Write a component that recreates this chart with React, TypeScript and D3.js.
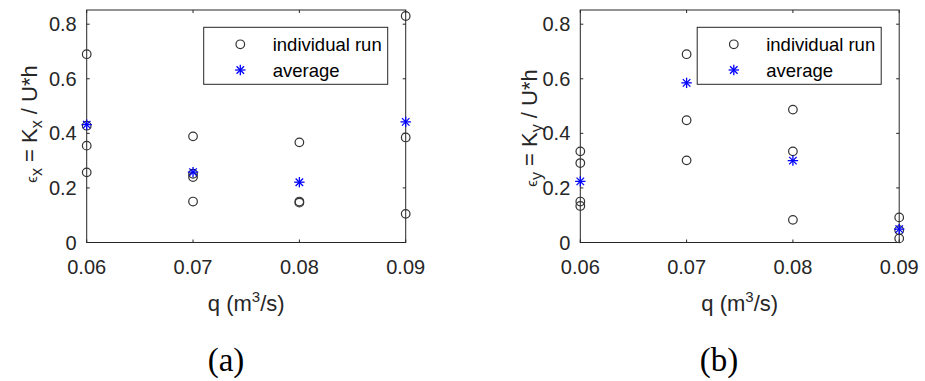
import React from 'react';
import * as d3 from 'd3';

// flow rates (m^3/s)
const flows = [0.06, 0.07, 0.08, 0.09];

// panel (a): eps_x individual runs per flow
const runsX: number[][] = [
  [0.69, 0.428, 0.355, 0.257],
  [0.389, 0.252, 0.24, 0.15],
  [0.367, 0.15, 0.146],
  [0.83, 0.385, 0.105],
];
const avgX = [0.432, 0.258, 0.221, 0.442];

// panel (b): eps_y individual runs per flow
const runsY: number[][] = [
  [0.334, 0.291, 0.15, 0.134],
  [0.69, 0.448, 0.301],
  [0.487, 0.334, 0.083],
  [0.092, 0.045, 0.015],
];
const avgY = [0.224, 0.585, 0.3, 0.049];

const yTicks = [0, 0.2, 0.4, 0.6, 0.8];
const xTicks = [0.06, 0.07, 0.08, 0.09];
const legendLabels = ['individual run', 'average'];

const AX = '#262626';
const SANS = '"Liberation Sans", Arial, Helvetica, sans-serif';

interface PanelProps {
  left: number;
  right: number;
  runs: number[][];
  avg: number[];
  sub: string;
  labelX: number;
  labelY: number;
  caption: string;
  captionX: number;
}

const Asterisk: React.FC<{ cx: number; cy: number }> = ({ cx, cy }) => {
  const r = 5.2;
  const d = r * 0.72;
  return (
    <g stroke="#0000ff" strokeWidth={1.3}>
      <line x1={cx - r} y1={cy} x2={cx + r} y2={cy} />
      <line x1={cx} y1={cy - r} x2={cx} y2={cy + r} />
      <line x1={cx - d} y1={cy - d} x2={cx + d} y2={cy + d} />
      <line x1={cx - d} y1={cy + d} x2={cx + d} y2={cy - d} />
    </g>
  );
};

const Panel: React.FC<PanelProps> = ({ left, right, runs, avg, sub, labelX, labelY, caption, captionX }) => {
  const top = 10;
  const bottom = 242.5;
  const x = d3.scaleLinear().domain([0.06, 0.09]).range([left, right]);
  const y = d3.scaleLinear().domain([0, 0.852]).range([bottom, top]);
  const tl = 3;
  const legW = 184;
  const legL = right - 18 - legW;
  const legT = 27.3;
  const legH = 57;

  return (
    <g>
      {/* axes box */}
      <rect x={left} y={top} width={right - left} height={bottom - top} fill="white" stroke={AX} strokeWidth={1} />
      {xTicks.map((t) => (
        <g key={'x' + t}>
          <line x1={x(t)} x2={x(t)} y1={bottom} y2={bottom - tl} stroke={AX} />
          <line x1={x(t)} x2={x(t)} y1={top} y2={top + tl} stroke={AX} />
          <text x={x(t)} y={274} textAnchor="middle" fontFamily={SANS} fontSize={20} fill={AX}>
            {t.toFixed(2)}
          </text>
        </g>
      ))}
      {yTicks.map((t) => (
        <g key={'y' + t}>
          <line x1={left} x2={left + tl} y1={y(t)} y2={y(t)} stroke={AX} />
          <line x1={right} x2={right - tl} y1={y(t)} y2={y(t)} stroke={AX} />
          <text x={left - 10} y={y(t) + 7} textAnchor="end" fontFamily={SANS} fontSize={20} fill={AX}>
            {t === 0 ? '0' : String(t)}
          </text>
        </g>
      ))}

      {/* data */}
      {runs.map((vals, i) =>
        vals.map((v, j) => (
          <circle key={`c${i}-${j}`} cx={x(flows[i])} cy={y(v)} r={4.3} fill="none" stroke="#333" strokeWidth={1.2} />
        ))
      )}
      {avg.map((v, i) => (
        <Asterisk key={'a' + i} cx={x(flows[i])} cy={y(v)} />
      ))}

      {/* legend */}
      <rect x={legL} y={legT} width={legW} height={legH} fill="white" stroke={AX} strokeWidth={1} />
      <circle cx={legL + 36.6} cy={44.3} r={4.3} fill="none" stroke="#333" strokeWidth={1.2} />
      <Asterisk cx={legL + 36.6} cy={70} />
      {legendLabels.map((l, i) => (
        <text key={l} x={legL + 69} y={[44.3, 70][i] + 6.5} fontFamily={SANS} fontSize={18.5} fill="#000">
          {l}
        </text>
      ))}

      {/* y label */}
      <text
        transform={`translate(${labelX},${labelY}) rotate(-90)`}
        textAnchor="middle"
        fontFamily={SANS}
        fontSize={22}
        fill={AX}
      >
        <tspan fontSize={15}>ϵ</tspan>
        <tspan fontSize={16} dy={5}>{sub}</tspan>
        <tspan dy={-5}> = K</tspan>
        <tspan fontSize={16} dy={5}>{sub}</tspan>
        <tspan dy={-5}> / U*h</tspan>
      </text>

      {/* x label */}
      <text x={(left + right) / 2} y={311} textAnchor="middle" fontFamily={SANS} fontSize={22} fill={AX}>
        q (m<tspan fontSize={15} dy={-9}>3</tspan>
        <tspan dy={9}>/s)</tspan>
      </text>

      <text x={captionX} y={371} textAnchor="middle" fontFamily='"Liberation Serif", "Times New Roman", serif' fontSize={33} fill="#000">
        {caption}
      </text>
    </g>
  );
};

const App: React.FC = () => {
  return (
    <svg
      width={925}
      height={381}
      style={{ position: 'absolute', left: 0, top: 0, background: 'white' }}
    >
      <rect width={925} height={381} fill="white" />
      <Panel left={86.7} right={405.7} runs={runsX} avg={avgX} sub="x" labelX={37} labelY={124} caption="(a)" captionX={226} />
      <Panel left={580.3} right={899.2} runs={runsY} avg={avgY} sub="y" labelX={537} labelY={128} caption="(b)" captionX={719} />
    </svg>
  );
};

export default App;
